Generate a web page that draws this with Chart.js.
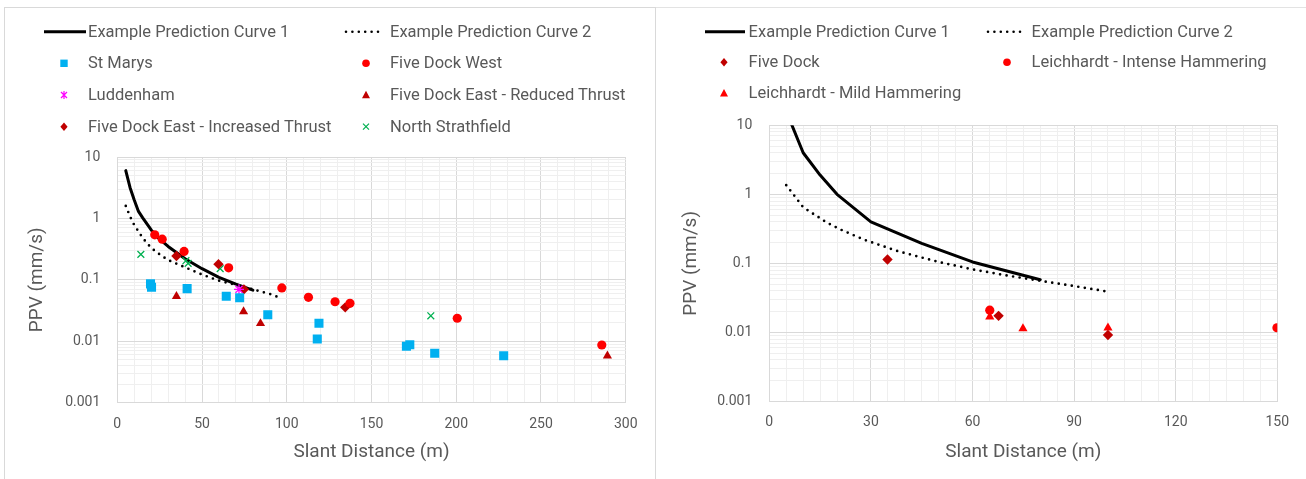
<!DOCTYPE html>
<html>
<head>
<meta charset="utf-8">
<script src="https://cdn.jsdelivr.net/npm/chart.js@4.4.1/dist/chart.umd.min.js"></script>
<style>
  body { margin: 0; width: 1306px; height: 479px; overflow: hidden; background: #fff; position: relative; font-family: Roboto, sans-serif; }
  #leftBox { position: absolute; left: 4px; top: 7px; width: 652px; height: 490px; border: 1px solid #d9d9d9; box-sizing: border-box; }
  #rightBox { position: absolute; left: 656px; top: 7px; width: 660px; height: 1px; background: #e3e3e3; }
  canvas { position: absolute; top: 0; }
  #leftChart { left: 0; }
  #rightChart { left: 657px; }
  #legendSymbols { position: absolute; left: 0; top: 0; }
  .lgText { position: absolute; font-size: 16.5px; line-height: 1; color: #595959; white-space: nowrap; transform: translateY(-50%); }
</style>
</head>
<body>
<div id="leftBox"></div>
<div id="rightBox"></div>
<canvas id="leftChart" width="655" height="479"></canvas>
<canvas id="rightChart" width="649" height="479"></canvas>
<svg id="legendSymbols" width="1306" height="150"></svg>
<div id="legendTexts"></div>
<script>
// axis ticks
const yTicks = [0.001, 0.01, 0.1, 1, 10];
const leftXTicks = [0, 50, 100, 150, 200, 250, 300];
const rightXTicks = [0, 30, 60, 90, 120, 150];

// left chart - prediction curves
const curve1X = [5, 7.5, 10, 12.5, 15, 20, 25, 30, 40, 50, 60, 70, 80];
const curve1Y = [6.0, 3.2, 2.0, 1.3, 1.02, 0.65, 0.46, 0.35, 0.22, 0.152, 0.11, 0.085, 0.068];
const curve2X = [5, 7.5, 10, 15, 20, 25, 30, 40, 50, 60, 70, 80, 90, 97];
const curve2Y = [1.6, 1.08, 0.78, 0.48, 0.33, 0.26, 0.21, 0.16, 0.122, 0.097, 0.083, 0.07, 0.059, 0.05];

// left chart - measurements
const stMarysX = [19.6, 20.2, 41.2, 64.3, 72.2, 88.8, 119, 118, 170.6, 172.6, 187.3, 228];
const stMarysY = [0.086, 0.076, 0.072, 0.054, 0.051, 0.027, 0.0196, 0.0109, 0.0083, 0.0088, 0.0064, 0.0058];
const fiveDockWestX = [22.1, 26.5, 39.4, 65.7, 97.1, 112.8, 128.5, 137.3, 200.6, 285.9];
const fiveDockWestY = [0.54, 0.46, 0.29, 0.157, 0.074, 0.052, 0.044, 0.0415, 0.0237, 0.0087];
const luddenhamX = [71.8];
const luddenhamY = [0.07];
const reducedX = [34.9, 74.5, 84.5, 289.2];
const reducedY = [0.054, 0.0305, 0.0195, 0.0058];
const increasedX = [34.9, 59.7, 74.7, 134.5];
const increasedY = [0.245, 0.18, 0.07, 0.0357];
const northX = [13.9, 40.5, 41.8, 60.7, 185];
const northY = [0.26, 0.205, 0.185, 0.152, 0.026];

// right chart - prediction curves
const curve3X = [5, 10, 15, 20, 30, 45, 60, 80];
const curve3Y = [16, 4, 1.9, 1.0, 0.4, 0.195, 0.105, 0.058];
const curve4X = [5, 10, 17, 21, 28, 38, 50, 60, 70, 80, 90, 100];
const curve4Y = [1.36, 0.65, 0.39, 0.31, 0.22, 0.15, 0.105, 0.082, 0.067, 0.056, 0.047, 0.039];

// right chart - measurements
const fiveDockX = [34.9, 67.7, 100];
const fiveDockY = [0.114, 0.0174, 0.0092];
const intenseX = [65.1, 149.9];
const intenseY = [0.021, 0.0117];
const mildX = [65.1, 74.9, 100];
const mildY = [0.0168, 0.0114, 0.0117];

const textColor = '#595959';
const majorGrid = '#d9d9d9';
const minorGrid = '#efefef';

Chart.defaults.font.family = 'Roboto, sans-serif';
Chart.defaults.color = textColor;

function pts(xs, ys) {
    return xs.map((x, i) => ({ x: x, y: ys[i] }));
}

const leftSeries = [
    { label: 'Example Prediction Curve 1', data: pts(curve1X, curve1Y), kind: 'solid' },
    { label: 'Example Prediction Curve 2', data: pts(curve2X, curve2Y), kind: 'dotted' },
    { label: 'St Marys', data: pts(stMarysX, stMarysY), kind: 'rect', color: '#00b0f0' },
    { label: 'Five Dock West', data: pts(fiveDockWestX, fiveDockWestY), kind: 'circle', color: '#ff0000' },
    { label: 'Luddenham', data: pts(luddenhamX, luddenhamY), kind: 'star', color: '#ff00ff' },
    { label: 'Five Dock East - Reduced Thrust', data: pts(reducedX, reducedY), kind: 'triangle', color: '#c00000' },
    { label: 'Five Dock East - Increased Thrust', data: pts(increasedX, increasedY), kind: 'rectRot', color: '#c00000' },
    { label: 'North Strathfield', data: pts(northX, northY), kind: 'crossRot', color: '#00b050' }
];

const rightSeries = [
    { label: 'Example Prediction Curve 1', data: pts(curve3X, curve3Y), kind: 'solid' },
    { label: 'Example Prediction Curve 2', data: pts(curve4X, curve4Y), kind: 'dotted' },
    { label: 'Five Dock', data: pts(fiveDockX, fiveDockY), kind: 'rectRot', color: '#c00000' },
    { label: 'Leichhardt - Intense Hammering', data: pts(intenseX, intenseY), kind: 'circle', color: '#ff0000' },
    { label: 'Leichhardt - Mild Hammering', data: pts(mildX, mildY), kind: 'triangle', color: '#ff0000' }
];

const pointSizes = { rect: 6.4, circle: 4.6, triangle: 5.3, rectRot: 5.2, star: 5, crossRot: 4.8 };

function toDataset(s) {
    if (s.kind === 'solid' || s.kind === 'dotted') {
        return {
            label: s.label, data: s.data, showLine: true, order: 1,
            borderColor: '#000', borderWidth: s.kind === 'solid' ? 3 : 2.7,
            borderDash: s.kind === 'dotted' ? [0, 6.6] : [],
            borderCapStyle: 'round', borderJoinStyle: 'round',
            pointRadius: 0, pointHoverRadius: 0, tension: 0
        };
    }
    const stroked = s.kind === 'star' || s.kind === 'crossRot';
    return {
        label: s.label, data: s.data, showLine: false, order: 0,
        pointStyle: s.kind, pointRadius: pointSizes[s.kind], pointHoverRadius: pointSizes[s.kind],
        backgroundColor: s.color, borderColor: s.color, borderWidth: stroked ? 1.3 : 0
    };
}

function makeChart(id, series, xTicks, xMinorStep, box) {
    const xMax = xTicks[xTicks.length - 1];
    const xMajorStep = xTicks[1] - xTicks[0];
    return new Chart(document.getElementById(id), {
        type: 'scatter',
        data: { datasets: series.map(toDataset) },
        options: {
            responsive: false,
            animation: false,
            layout: { padding: { top: box.top, right: box.right, left: 0, bottom: 0 } },
            plugins: { legend: { display: false }, tooltip: { enabled: false } },
            scales: {
                x: {
                    type: 'linear', min: 0, max: xMax,
                    afterBuildTicks: (scale) => {
                        const t = [];
                        for (let v = 0; v <= xMax + 1e-9; v += xMinorStep) t.push({ value: v });
                        scale.ticks = t;
                    },
                    afterFit: (scale) => { scale.height = box.xHeight; },
                    ticks: {
                        autoSkip: false, maxRotation: 0, padding: 13,
                        font: { size: 14 }, color: textColor,
                        callback: (v) => (xTicks.includes(v) ? String(v) : '')
                    },
                    grid: {
                        drawTicks: false,
                        color: (ctx) => (ctx.tick && Math.abs(ctx.tick.value % xMajorStep) < 1e-9 ? majorGrid : minorGrid)
                    },
                    border: { color: majorGrid },
                    title: {
                        display: true, text: 'Slant Distance (m)', color: textColor,
                        font: { size: 19 }, padding: { top: 0, bottom: 15.5 }
                    }
                },
                y: {
                    type: 'logarithmic', min: yTicks[0], max: yTicks[yTicks.length - 1],
                    afterBuildTicks: (scale) => {
                        const t = [];
                        for (let i = 0; i < yTicks.length - 1; i++) {
                            for (let m = 1; m <= 9; m++) t.push({ value: m === 1 ? yTicks[i] : m * yTicks[i] });
                        }
                        t.push({ value: yTicks[yTicks.length - 1] });
                        scale.ticks = t;
                    },
                    afterFit: (scale) => { scale.width = box.left; },
                    ticks: {
                        autoSkip: false, padding: 17,
                        font: { size: 14 }, color: textColor,
                        callback: (v) => (yTicks.includes(v) ? String(v) : '')
                    },
                    grid: {
                        drawTicks: false,
                        color: (ctx) => (ctx.tick && yTicks.includes(ctx.tick.value) ? majorGrid : minorGrid)
                    },
                    border: { color: majorGrid },
                    title: {
                        display: true, text: 'PPV (mm/s)', color: textColor,
                        font: { size: 19 }, padding: { top: box.yTitle, bottom: 0 }
                    }
                }
            }
        }
    });
}

makeChart('leftChart', leftSeries, leftXTicks, 10, { top: 157, right: 29.3, left: 117.3, xHeight: 76.3, yTitle: 26 });
makeChart('rightChart', rightSeries, rightXTicks, 5, { top: 125.3, right: 28.7, left: 112.3, xHeight: 77.5, yTitle: 22.6 });

// legends (Excel style, two columns)
const svgNS = 'http://www.w3.org/2000/svg';
const svg = document.getElementById('legendSymbols');
const texts = document.getElementById('legendTexts');

function el(name, attrs) {
    const e = document.createElementNS(svgNS, name);
    for (const k in attrs) e.setAttribute(k, attrs[k]);
    svg.appendChild(e);
    return e;
}

function drawSymbol(s, col, y) {
    if (s.kind === 'solid') {
        el('line', { x1: col.lineFrom, y1: y, x2: col.lineTo, y2: y, stroke: '#000', 'stroke-width': 3 });
        return;
    }
    if (s.kind === 'dotted') {
        el('line', { x1: col.lineFrom, y1: y, x2: col.lineTo, y2: y, stroke: '#000', 'stroke-width': 2.6,
            'stroke-dasharray': '0 6.4', 'stroke-linecap': 'round' });
        return;
    }
    const x = col.sym;
    const c = s.color;
    if (s.kind === 'rect') el('rect', { x: x - 3.7, y: y - 3.7, width: 7.4, height: 7.4, fill: c });
    if (s.kind === 'circle') el('circle', { cx: x, cy: y, r: 3.8, fill: c });
    if (s.kind === 'triangle') el('polygon', { points: `${x},${y - 4.3} ${x + 4},${y + 3.2} ${x - 4},${y + 3.2}`, fill: c });
    if (s.kind === 'rectRot') el('polygon', { points: `${x},${y - 4.2} ${x + 3.6},${y} ${x},${y + 4.2} ${x - 3.6},${y}`, fill: c });
    if (s.kind === 'crossRot') {
        el('path', { d: `M${x - 3},${y - 3}L${x + 3},${y + 3}M${x + 3},${y - 3}L${x - 3},${y + 3}`, stroke: c, 'stroke-width': 1.2 });
    }
    if (s.kind === 'star') {
        el('path', { d: `M${x - 3},${y - 3}L${x + 3},${y + 3}M${x + 3},${y - 3}L${x - 3},${y + 3}M${x},${y - 4}L${x},${y + 4}`, stroke: c, 'stroke-width': 1.2 });
    }
}

function buildLegend(series, cols, rows) {
    series.forEach((s, i) => {
        const col = cols[i % 2];
        const y = rows[Math.floor(i / 2)];
        drawSymbol(s, col, y);
        const t = document.createElement('div');
        t.className = 'lgText';
        t.style.left = col.text + 'px';
        t.style.top = y + 'px';
        t.textContent = s.label;
        texts.appendChild(t);
    });
}

buildLegend(leftSeries,
    [{ lineFrom: 44, lineTo: 86, sym: 64, text: 88 }, { lineFrom: 346, lineTo: 383, sym: 366, text: 390 }],
    [31.7, 63.3, 95, 126.7]);
buildLegend(rightSeries,
    [{ lineFrom: 705, lineTo: 745, sym: 724, text: 748.6 }, { lineFrom: 988, lineTo: 1025, sym: 1007, text: 1031.6 }],
    [31.7, 62.3, 93.3]);
</script>
</body>
</html>
